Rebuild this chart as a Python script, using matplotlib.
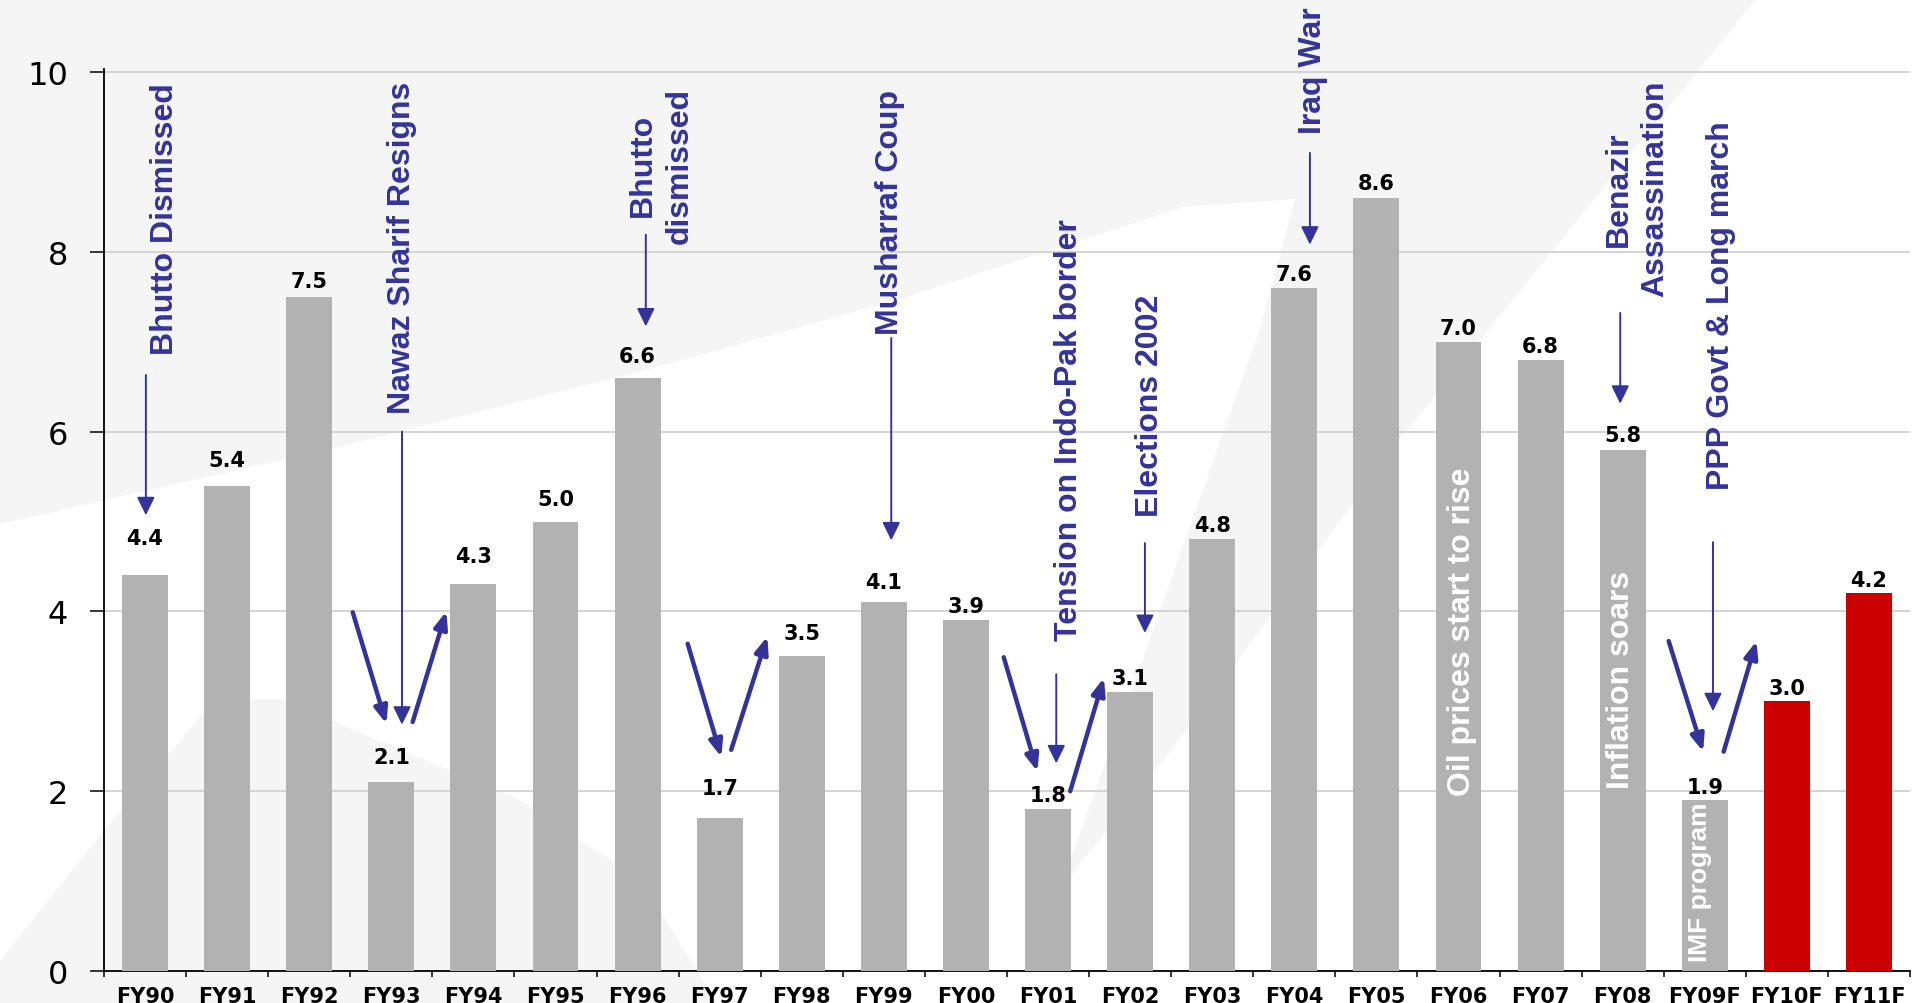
import matplotlib
matplotlib.use("Agg")
import matplotlib.pyplot as plt
from matplotlib.patches import Polygon
import numpy as np

# GDP growth by fiscal year (FY10F/FY11F are forecasts)
years = ["FY90", "FY91", "FY92", "FY93", "FY94", "FY95", "FY96", "FY97", "FY98", "FY99",
         "FY00", "FY01", "FY02", "FY03", "FY04", "FY05", "FY06", "FY07", "FY08",
         "FY09F", "FY10F", "FY11F"]
growth = [4.4, 5.4, 7.5, 2.1, 4.3, 5.0, 6.6, 1.7, 3.5, 4.1, 3.9, 1.8, 3.1, 4.8,
          7.6, 8.6, 7.0, 6.8, 5.8, 1.9, 3.0, 4.2]
forecast = ["FY10F", "FY11F"]

# political events written above the bars
events = ["Bhutto Dismissed", "Nawaz Sharif Resigns", "Bhutto\ndismissed", "Musharraf Coup",
          "Tension on Indo-Pak border", "Elections 2002", "Iraq War",
          "Benazir\nAssassination", "PPP Govt & Long march"]
event_x = [0.24, 3.13, 6.29, 9.07, 11.25, 12.24, 14.23, 18.17, 19.20]
event_y = [8.38, 8.05, 8.97, 8.45, 6.03, 6.30, 10.03, 8.71, 7.41]

# thin pointer under each event label
pointer_x = [0.01, 3.13, 6.10, 9.09, 11.10, 12.18, 14.19, 17.97, 19.10]
pointer_from = [6.63, 6.00, 8.19, 7.04, 3.30, 4.76, 9.10, 7.32, 4.77]
pointer_to = [5.07, 2.74, 7.17, 4.79, 2.31, 3.76, 8.08, 6.31, 2.89]

# thick V arrows around the dips (start -> end)
dip_start = [(2.53, 3.99), (3.26, 2.77), (6.61, 3.64), (7.14, 2.46),
             (10.46, 3.49), (11.27, 2.00), (18.56, 3.67), (19.23, 2.44)]
dip_end = [(2.94, 2.75), (3.67, 4.00), (7.02, 2.38), (7.58, 3.72),
           (10.87, 2.22), (11.68, 3.26), (18.98, 2.44), (19.63, 3.67)]

# white notes written inside bars
bar_notes = ["Oil prices start to rise", "Inflation soars", "IMF program"]
note_x = [16.04, 17.98, 18.94]
note_y = [3.78, 3.25, 1.00]
note_size = [23, 23, 19]

# value label lift above bar top, pixels
label_lift = [38, 27, 17, 26, 29, 23, 23, 31, 24, 21, 15, 15, 15, 15, 15, 16, 15, 15, 16, 14, 14, 14]

blue = "#333399"
sans = ["Liberation Sans", "DejaVu Sans"]

W, H = 1913, 1004
fig = plt.figure(figsize=(W / 100, H / 100), dpi=100)
fig.patch.set_facecolor("white")


def fpos(pts):
    return [(x / W, 1 - y / H) for x, y in pts]


# faint background swooshes
shade = "#f5f5f5"
top_shape = [(0, 0), (1756, 0), (1400, 440), (1180, 740), (1060, 890), (1150, 640),
             (1260, 330), (1295, 200), (1183, 208), (900, 300), (650, 370), (330, 450), (0, 525)]
low_shape = [(0, 1004), (0, 962), (103, 833), (201, 717), (250, 700), (290, 700),
             (344, 727), (517, 800), (640, 880), (717, 1004)]
for shp in (top_shape, low_shape):
    fig.add_artist(Polygon(fpos(shp), closed=True, transform=fig.transFigure,
                           facecolor=shade, edgecolor="none", zorder=-5))

unit = 89.9
ymax = 10.03
ax = fig.add_axes([104 / W, 32 / H, (1910 - 104) / W, ymax * unit / H])
ax.set_facecolor("none")

x = np.arange(len(years))
colors = ["#cc0000" if y in forecast else "#b2b2b2" for y in years]
ax.bar(x, growth, width=0.56, color=colors, zorder=3)

ax.set_xlim(-0.5, len(years) - 0.5)
ax.set_ylim(0, ymax)
ax.set_yticks([0, 2, 4, 6, 8, 10])
ax.yaxis.grid(True, color="#d4d4d4", lw=1.4, zorder=0)
ax.set_axisbelow(True)

ax.set_xticks(x)
ax.set_xticklabels(years, fontsize=15, fontweight="bold", family="DejaVu Sans")
ax.set_xticks(np.arange(-0.5, len(years), 1), minor=True)
ax.tick_params(axis="x", which="major", length=0, pad=11)
ax.tick_params(axis="x", which="minor", length=4, width=1.1, direction="out")
ax.tick_params(axis="y", length=10, width=1.1, direction="out", pad=16, labelsize=23)

for s in ["top", "right"]:
    ax.spines[s].set_visible(False)
for s in ["left", "bottom"]:
    ax.spines[s].set_linewidth(1.3)
    ax.spines[s].set_color("black")

# value labels
for i, v in enumerate(growth):
    ax.annotate(f"{v:.1f}", xy=(i, v), xytext=(0, label_lift[i] - 7),
                textcoords="offset pixels", ha="center", va="baseline",
                fontsize=15, fontweight="bold", family="DejaVu Sans", zorder=5)

# event labels
for s, ex, ey in zip(events, event_x, event_y):
    ax.text(ex, ey, s, rotation=90, ha="center", va="center", multialignment="center",
            color=blue, fontsize=23, fontweight="bold", family=sans,
            linespacing=1.28, zorder=6)

for px_, y0, y1 in zip(pointer_x, pointer_from, pointer_to):
    ax.annotate("", xy=(px_, y1), xytext=(px_, y0), annotation_clip=False,
                arrowprops=dict(arrowstyle="-|>,head_length=0.55,head_width=0.27",
                                color=blue, lw=1.4, mutation_scale=20,
                                shrinkA=0, shrinkB=0), zorder=6)

for (sx, sy), (ex, ey) in zip(dip_start, dip_end):
    ax.annotate("", xy=(ex, ey), xytext=(sx, sy), annotation_clip=False,
                arrowprops=dict(arrowstyle="-|>,head_length=0.5,head_width=0.2",
                                color=blue, lw=3.2, mutation_scale=20,
                                shrinkA=0, shrinkB=0), zorder=6)

for s, nx, ny, fs in zip(bar_notes, note_x, note_y, note_size):
    ax.text(nx, ny, s, rotation=90, ha="center", va="center", color="white",
            fontsize=fs, fontweight="bold", family=sans, zorder=6)

fig.savefig("out.png", dpi=100)
